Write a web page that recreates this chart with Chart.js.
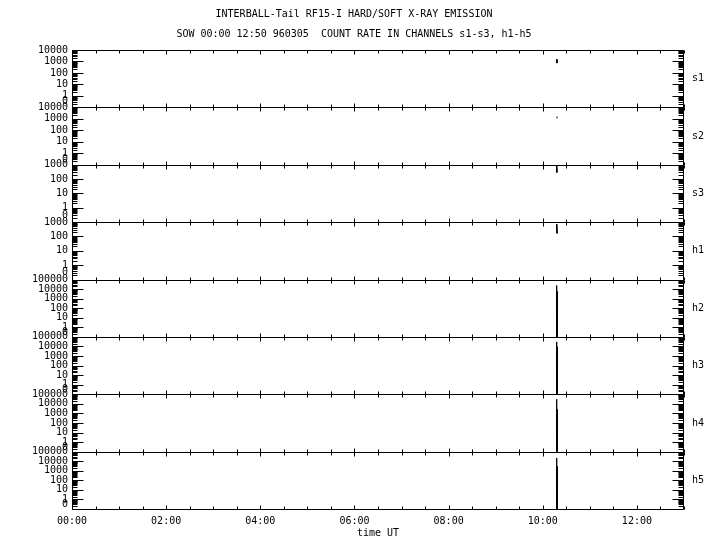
<!DOCTYPE html>
<html>
<head>
<meta charset="utf-8">
<title>INTERBALL-Tail RF15-I X-ray emission</title>
<script src="https://cdn.jsdelivr.net/npm/chart.js@4.4.1/dist/chart.umd.min.js"></script>
<style>
  html, body { margin: 0; padding: 0; background: #fff; }
  #wrap { width: 720px; height: 550px; }
</style>
</head>
<body>
<div id="wrap"><canvas id="xray" width="720" height="550"></canvas></div>
<script>
// INTERBALL-Tail RF15-I count rates, 1996-03-05, eight stacked log panels.
// Only a short burst near 10:18 UT carries data; everything else is empty.

const MONO = '"DejaVu Sans Mono", "Liberation Mono", monospace';

const titleLines = [
    'INTERBALL-Tail RF15-I HARD/SOFT X-RAY EMISSION',
    'SOW 00:00 12:50 960305  COUNT RATE IN CHANNELS s1-s3, h1-h5'
];

// ---- Data ------------------------------------------------------------------
const channels = ['s1', 's2', 's3', 'h1', 'h2', 'h3', 'h4', 'h5'];
// upper end of each panel's count axis (lower end is the "0" floor)
const panelTop = [10000, 10000, 1000, 1000, 100000, 100000, 100000, 100000];

// time axis, minutes since 00:00 UT
const timeLabels = ['00:00', '02:00', '04:00', '06:00', '08:00', '10:00', '12:00'];

// burst samples (minutes UT) and counts per channel
const s1Time = [617.5, 618.0, 618.5];
const s1Counts = [1600, 720, 1300];
const s2Time = [618.0, 618.3];
const s2Counts = [1600, 1100];
const s3Time = [617.5, 617.9, 618.3];
const s3Counts = [940, 290, 500];
const h1Time = [617.5, 617.8, 618.1, 618.5];
const h1Counts = [720, 160, 700, 170];
const h2Time = [617.3, 617.6, 617.9, 618.2, 618.5];
const h2Counts = [0, 23500, 0, 5500, 0];
const h3Time = [617.3, 617.6, 617.9, 618.2, 618.5];
const h3Counts = [0, 29900, 0, 9000, 0];
const h4Time = [617.3, 617.6, 617.9, 618.2, 618.5];
const h4Counts = [0, 30000, 0, 2500, 0];
const h5Time = [617.3, 617.6, 617.9, 618.2, 618.5];
const h5Counts = [0, 21900, 0, 2700, 0];

const seriesTime = [s1Time, s2Time, s3Time, h1Time, h2Time, h3Time, h4Time, h5Time];
const seriesCounts = [s1Counts, s2Counts, s3Counts, h1Counts, h2Counts, h3Counts, h4Counts, h5Counts];

// zero counts sit on the bottom of each log panel
const FLOOR = 0.1;

// ---- Axes ------------------------------------------------------------------
function isDecade(v) {
    const lg = Math.log10(v);
    return Math.abs(lg - Math.round(lg)) < 1e-6;
}

function countLabel(v) {
    if (Math.abs(v - 0.3) < 1e-9) return '0';   // "0" printed just above the floor
    if (v >= 1 && isDecade(v)) return String(Math.round(v));
    return '';
}

const tickFont = { family: MONO, size: 10 };

const scales = {
    x: {
        type: 'linear',
        position: 'bottom',
        min: 0,
        max: 780,
        grid: { display: false, drawTicks: false },
        border: { display: false },
        ticks: {
            stepSize: 30,
            maxTicksLimit: 100,
            autoSkip: false,
            maxRotation: 0,
            padding: 6,
            color: '#000',
            font: tickFont,
            callback: v => (v % 120 === 0 ? timeLabels[v / 120] : '')
        },
        title: {
            display: true,
            text: 'time UT',
            color: '#000',
            font: tickFont,
            padding: { top: 0, bottom: 0 }
        },
        afterFit: s => { s.height = 30; }
    }
};

channels.forEach((name, i) => {
    scales['y' + i] = {
        type: 'logarithmic',
        position: 'left',
        stack: 'panels',
        stackWeight: 1,
        weight: channels.length - i,
        min: FLOOR,
        max: panelTop[i],
        grid: { display: false, drawTicks: false },
        border: { display: false },
        ticks: {
            autoSkip: false,
            padding: 4,
            color: '#000',
            font: tickFont,
            callback: v => countLabel(v)
        },
        afterFit: s => { s.width = 48; }
    };
});

// ---- Frames, inward tick marks and channel names ---------------------------
const panelFrame = {
    id: 'panelFrame',
    afterDatasetsDraw(chart) {
        const { ctx, chartArea, scales: sc } = chart;
        const xs = sc.x;
        const left = Math.round(chartArea.left) + 0.5;
        const right = Math.round(chartArea.right) - 0.5;
        ctx.save();
        ctx.strokeStyle = '#000';
        ctx.lineWidth = 1;
        ctx.beginPath();
        channels.forEach((name, i) => {
            const ys = sc['y' + i];
            const top = Math.round(ys.top) + 0.5;
            const bottom = Math.round(ys.bottom) + 0.5;
            ctx.rect(left, top, right - left, bottom - top);
            ys.ticks.forEach(t => {
                const v = t.value;
                const sig = v / Math.pow(10, Math.floor(Math.log10(v) + 1e-9));
                if (Math.abs(sig - 1.5) < 1e-6) return;
                const y = Math.round(ys.getPixelForValue(v)) + 0.5;
                const len = isDecade(v) ? 11 : 5;
                ctx.moveTo(left, y); ctx.lineTo(left + len, y);
                ctx.moveTo(right, y); ctx.lineTo(right - len, y);
            });
            xs.ticks.forEach(t => {
                const x = Math.round(xs.getPixelForValue(t.value)) + 0.5;
                const len = t.value % 120 === 0 ? 4 : 3;
                ctx.moveTo(x, top); ctx.lineTo(x, top + len);
                ctx.moveTo(x, bottom); ctx.lineTo(x, bottom - len);
            });
        });
        ctx.stroke();

        ctx.fillStyle = '#000';
        ctx.font = '10px ' + MONO;
        ctx.textAlign = 'center';
        ctx.textBaseline = 'middle';
        channels.forEach((name, i) => {
            const ys = sc['y' + i];
            ctx.fillText(name, chartArea.right + 14, (ys.top + ys.bottom) / 2);
        });
        ctx.restore();
    }
};

// ---- Chart -----------------------------------------------------------------
const datasets = channels.map((name, i) => ({
    label: name,
    yAxisID: 'y' + i,
    data: seriesTime[i].map((t, k) => ({ x: t, y: Math.max(seriesCounts[i][k], FLOOR) })),
    borderColor: '#000',
    borderWidth: 1,
    pointRadius: 0,
    tension: 0,
    fill: false
}));

new Chart(document.getElementById('xray'), {
    type: 'line',
    data: { datasets: datasets },
    options: {
        responsive: false,
        animation: false,
        devicePixelRatio: 1,
        layout: { padding: { left: 24, right: 36, top: 0, bottom: 11 } },
        scales: scales,
        plugins: {
            legend: { display: false },
            tooltip: { enabled: false },
            title: {
                display: true,
                text: titleLines,
                color: '#000',
                font: { family: MONO, size: 10, weight: 'normal', lineHeight: 2 },
                padding: { top: 4, bottom: 6 }
            }
        }
    },
    plugins: [panelFrame]
});
</script>
</body>
</html>
